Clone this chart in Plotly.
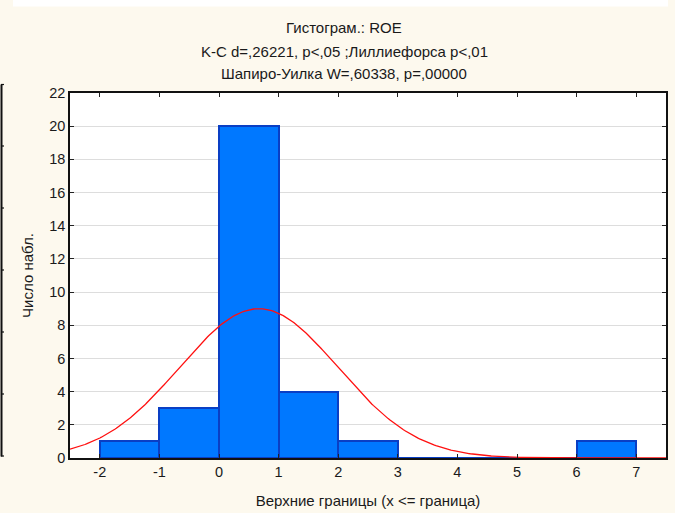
import numpy as np
import plotly.graph_objects as go

# Data
bin_lower = [-2, -1, 0, 1, 2, 3, 4, 5, 6]
bin_upper = [-1, 0, 1, 2, 3, 4, 5, 6, 7]
counts = [1, 3, 20, 4, 1, 0, 0, 0, 1]
x_ticks = [-2, -1, 0, 1, 2, 3, 4, 5, 6, 7]
x_tick_labels = ["-2", "-1", "0", "1", "2", "3", "4", "5", "6", "7"]
y_ticks = [0, 2, 4, 6, 8, 10, 12, 14, 16, 18, 20, 22]

# Expected normal fit parameters
n_obs = 30
fit_mean = 0.667
fit_sd = 1.33
bin_width = 1.0

title_lines = [
    "Гистограм.: ROE",
    "K-C d=,26221, p<,05 ;Лиллиефорса p<,01",
    "Шапиро-Уилка W=,60338, p=,00000",
]
x_title = "Верхние границы (x <= граница)"
y_title = "Число набл."

BG = "#FDF9EE"
FONT = "Liberation Sans, Arial, sans-serif"
TXT = "#1a1a1a"

centers = [(a + b) / 2 for a, b in zip(bin_lower, bin_upper)]
widths = [b - a for a, b in zip(bin_lower, bin_upper)]

xc = np.linspace(-2.5, 7.5, 400)
yc = n_obs * bin_width * np.exp(-0.5 * ((xc - fit_mean) / fit_sd) ** 2) / (fit_sd * np.sqrt(2 * np.pi))

fig = go.Figure()
fig.add_trace(go.Bar(
    x=centers, y=counts, width=widths,
    marker=dict(color="#0078FF", line=dict(color="#0A3FC4", width=2)),
    hoverinfo="skip",
))
fig.add_trace(go.Scatter(
    x=xc, y=yc, mode="lines",
    line=dict(color="#FF1010", width=1.3),
    hoverinfo="skip",
))

L, R, T, B = 70, 9, 93, 55
W, H = 675, 513
pw, ph = W - L - R, H - T - B

def px2x(px):
    return (px - L) / pw

def py2y(py):
    return (H - B - py) / ph

annotations = []
title_y = [28, 51, 73]
for txt, ty in zip(title_lines, title_y):
    annotations.append(dict(
        text=txt, xref="paper", yref="paper", x=px2x(344), y=py2y(ty),
        xanchor="center", yanchor="middle", showarrow=False,
        font=dict(family=FONT, size=15, color=TXT),
    ))

shapes = [
    dict(type="rect", xref="paper", yref="paper",
         x0=px2x(13), x1=px2x(668), y0=py2y(6.5), y1=py2y(-2),
         fillcolor="white", line=dict(width=0), layer="below"),
    dict(type="line", xref="paper", yref="paper",
         x0=px2x(1.5), x1=px2x(1.5), y0=py2y(84.5), y1=py2y(456.5),
         line=dict(color="#111111", width=2)),
]
for ty in [84.5, 146, 208, 270, 332, 394, 456]:
    shapes.append(dict(type="line", xref="paper", yref="paper",
                       x0=px2x(1), x1=px2x(4), y0=py2y(ty), y1=py2y(ty),
                       line=dict(color="#111111", width=1.2)))

fig.update_layout(
    width=W, height=H,
    margin=dict(l=L, r=R, t=T, b=B, pad=0),
    paper_bgcolor=BG, plot_bgcolor="white",
    showlegend=False,
    bargap=0,
    font=dict(family=FONT, size=15, color=TXT),
    annotations=annotations,
    shapes=shapes,
    xaxis=dict(
        range=[-2.5, 7.5], tickmode="array", tickvals=x_ticks, ticktext=x_tick_labels,
        ticks="inside", ticklen=4, tickcolor="#222", mirror="ticks",
        showline=True, linecolor="#111", linewidth=1.5,
        showgrid=False, zeroline=False, automargin=False,
        title=dict(text=x_title, standoff=16, font=dict(size=15)),
        tickfont=dict(size=14.5),
    ),
    yaxis=dict(
        range=[0, 22], tickmode="array", tickvals=y_ticks,
        ticks="inside", ticklen=4, tickcolor="#222", mirror="ticks",
        showline=True, linecolor="#111", linewidth=1.5,
        showgrid=True, gridcolor="#DDDDDD", gridwidth=1,
        zeroline=False, automargin=False,
        title=dict(text=y_title, standoff=12, font=dict(size=15)),
        tickfont=dict(size=14.5),
    ),
)

fig.write_html("out.html")
